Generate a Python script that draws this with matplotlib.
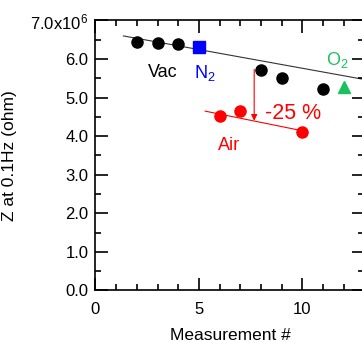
import matplotlib
matplotlib.use('Agg')
import matplotlib.pyplot as plt
from matplotlib.ticker import MultipleLocator, FixedLocator

plt.rcParams['font.family'] = ['Liberation Sans', 'DejaVu Sans']
plt.rcParams['mathtext.default'] = 'regular'

# data
vac_x = [2, 3, 4, 8, 9, 11]
vac_y = [6.44e6, 6.42e6, 6.38e6, 5.72e6, 5.52e6, 5.22e6]
n2_x = [5]
n2_y = [6.30e6]
o2_x = [12]
o2_y = [5.28e6]
air_x = [6, 7, 10]
air_y = [4.52e6, 4.66e6, 4.11e6]

# guide lines
vac_fit_x = [1.35, 13.0]
vac_fit_y = [6.60e6, 5.47e6]
air_fit_x = [5.3, 10.1]
air_fit_y = [4.65e6, 4.13e6]
arrow_x = 7.67
arrow_y = [5.73e6, 4.40e6]

yticks = [0, 1e6, 2e6, 3e6, 4e6, 5e6, 6e6, 7e6]
ytick_labels = ['0.0', '1.0', '2.0', '3.0', '4.0', '5.0', '6.0', '7.0x10$^{6}$']

red = '#ff0000'
blue = '#0000ff'
green = '#19c15f'

fig = plt.figure(figsize=(3.62, 3.42), dpi=100)
ax = fig.add_axes([0.2638, 0.1506, 0.743, 0.7895])

ax.plot(vac_fit_x, vac_fit_y, color='#333333', lw=0.8, zorder=1)
ax.plot(air_fit_x, air_fit_y, color=red, lw=0.8, zorder=1)
ax.plot(vac_x, vac_y, 'o', color='black', ms=8, zorder=3)
ax.plot(n2_x, n2_y, 's', color=blue, ms=8, zorder=3)
ax.plot(o2_x, o2_y, '^', color=green, ms=8, zorder=3)
ax.plot(air_x, air_y, 'o', color=red, ms=8, zorder=3)
ax.annotate('', xy=(arrow_x, arrow_y[1]), xytext=(arrow_x, arrow_y[0]),
            arrowprops=dict(arrowstyle='-|>', color=red, lw=0.8,
                            mutation_scale=9, shrinkA=0, shrinkB=0))

ax.text(3.27, 5.65e6, 'Vac', fontsize=13, ha='center', va='center')
ax.text(4.75, 5.65e6, 'N$_2$', fontsize=13, color=blue, ha='left', va='center')
ax.text(11.7, 5.98e6, 'O$_2$', fontsize=13, color=green, ha='center', va='center')
ax.text(8.2, 4.6e6, '-25 %', fontsize=15.5, color=red, ha='left', va='center')
ax.text(6.47, 3.77e6, 'Air', fontsize=13, color=red, ha='center', va='center')

ax.set_xlim(0, 13)
ax.set_ylim(0, 7e6)
ax.xaxis.set_major_locator(FixedLocator([0, 5, 10]))
ax.xaxis.set_minor_locator(MultipleLocator(1))
ax.yaxis.set_major_locator(FixedLocator(yticks))
ax.yaxis.set_minor_locator(MultipleLocator(0.5e6))
ax.set_yticklabels(ytick_labels)

for s in ax.spines.values():
    s.set_linewidth(1.2)
ax.tick_params(which='both', direction='in', top=True, right=True, width=1.2,
               labelsize=12)
ax.tick_params(which='major', length=9)
ax.tick_params(which='minor', length=4.5)
ax.tick_params(axis='x', pad=8)
ax.tick_params(axis='y', pad=5)

ax.set_xlabel('Measurement #', fontsize=12.5, labelpad=8)
ax.set_ylabel('Z at 0.1Hz (ohm)', fontsize=12.5, labelpad=10)

fig.savefig('out.png', dpi=100)
